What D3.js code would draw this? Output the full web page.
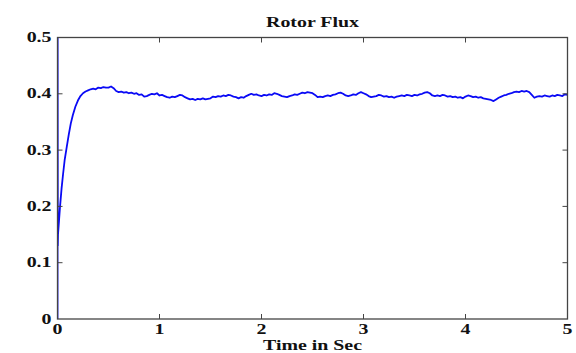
<!DOCTYPE html>
<html>
<head>
<meta charset="utf-8">
<script src="https://d3js.org/d3.v7.min.js"></script>
<style>
  body { margin: 0; background: #fff; }
  text { font-family: "Liberation Serif", "Times New Roman", serif; font-weight: bold; fill: #111; }
</style>
</head>
<body>
<div id="chart"></div>
<script>

// start-up transient
var timeStart = [0, 0.001, 0.003, 0.005, 0.015, 0.025, 0.04, 0.055, 0.07, 0.09, 0.11, 0.13, 0.15,
  0.175, 0.2, 0.225, 0.25, 0.275, 0.3, 0.325, 0.35, 0.375, 0.4, 0.425, 0.45, 0.475];
var fluxStart = [0, 0.52, 0.13, 0.15, 0.175, 0.2, 0.232, 0.258, 0.282, 0.305, 0.327, 0.347, 0.362,
  0.377, 0.388, 0.396, 0.401, 0.404, 0.406, 0.408, 0.409, 0.408, 0.411, 0.41, 0.412, 0.411];

// steady part, one sample every 0.025 s from 0.5 to 5
var fluxSteady = [
  0.411, 0.413, 0.410, 0.405, 0.403, 0.404, 0.402, 0.403, 0.401, 0.402,
  0.400, 0.401, 0.398, 0.399, 0.395, 0.396, 0.398, 0.400, 0.399, 0.401,
  0.397, 0.398, 0.396, 0.394, 0.393, 0.395, 0.394, 0.396, 0.398, 0.397,
  0.394, 0.392, 0.390, 0.391, 0.389, 0.391, 0.390, 0.392, 0.390, 0.391,
  0.392, 0.395, 0.394, 0.396, 0.395, 0.397, 0.396, 0.398, 0.397, 0.395,
  0.394, 0.392, 0.394, 0.393, 0.396, 0.398, 0.400, 0.398, 0.399, 0.397,
  0.396, 0.398, 0.397, 0.399, 0.398, 0.401, 0.400, 0.398, 0.396, 0.395,
  0.394, 0.396, 0.397, 0.399, 0.398, 0.400, 0.402, 0.401, 0.403, 0.402,
  0.401, 0.398, 0.394, 0.395, 0.394, 0.396, 0.397, 0.396, 0.398, 0.399,
  0.401, 0.402, 0.400, 0.397, 0.396, 0.397, 0.399, 0.398, 0.401, 0.403,
  0.401, 0.399, 0.396, 0.394, 0.395, 0.396, 0.398, 0.397, 0.395, 0.396,
  0.394, 0.395, 0.393, 0.395, 0.396, 0.397, 0.396, 0.398, 0.397, 0.396,
  0.398, 0.397, 0.399, 0.400, 0.402, 0.403, 0.401, 0.397, 0.396, 0.397,
  0.396, 0.398, 0.397, 0.395, 0.396, 0.394, 0.395, 0.393, 0.394, 0.392,
  0.395, 0.397, 0.396, 0.394, 0.395, 0.393, 0.394, 0.392, 0.391, 0.390,
  0.389, 0.387, 0.390, 0.393, 0.395, 0.397, 0.398, 0.400, 0.401, 0.403,
  0.404, 0.403, 0.405, 0.404, 0.405, 0.403, 0.398, 0.393, 0.395, 0.396,
  0.395, 0.397, 0.396, 0.395, 0.397, 0.396, 0.398, 0.397, 0.396, 0.399,
  0.398];
var steadyT0 = 0.5, steadyDt = 0.025;

var xTicks = [0, 1, 2, 3, 4, 5];
var yTicks = [0, 0.1, 0.2, 0.3, 0.4, 0.5];

var data = [];
timeStart.forEach(function(t, i) { data.push([t, fluxStart[i]]); });
fluxSteady.forEach(function(v, i) { data.push([steadyT0 + i * steadyDt, v]); });

var W = 576, H = 353;
var margin = {top: 37.5, right: 8.5, bottom: 34, left: 57.5};
var width = W - margin.left - margin.right,
    height = H - margin.top - margin.bottom;
var stretch = 1.42; // the picture's text is wide, stretch it horizontally

var svg = d3.select("#chart").append("svg")
    .attr("width", W).attr("height", H);
var g = svg.append("g")
    .attr("transform", "translate(" + margin.left + "," + margin.top + ")");

var x = d3.scaleLinear().domain([0, 5]).range([0, width]);
var y = d3.scaleLinear().domain([0, 0.5]).range([height, 0]);

g.append("defs").append("clipPath").attr("id", "clip")
  .append("rect").attr("width", width).attr("height", height);

// curve
g.append("path")
  .datum(data)
  .attr("clip-path", "url(#clip)")
  .attr("fill", "none")
  .attr("stroke", "#0a0af5")
  .attr("stroke-width", 1.8)
  .attr("stroke-linejoin", "round")
  .attr("d", d3.line().x(function(d) { return x(d[0]); }).y(function(d) { return y(d[1]); }));

// box
g.append("rect")
  .attr("width", width).attr("height", height)
  .attr("fill", "none").attr("stroke", "#444").attr("stroke-width", 1.3);

// inward ticks on all four sides
var tk = 5;
xTicks.slice(1, -1).forEach(function(t) {
  g.append("line").attr("x1", x(t)).attr("x2", x(t)).attr("y1", height).attr("y2", height - tk)
    .attr("stroke", "#444");
  g.append("line").attr("x1", x(t)).attr("x2", x(t)).attr("y1", 0).attr("y2", tk)
    .attr("stroke", "#444");
});
yTicks.slice(1, -1).forEach(function(t) {
  g.append("line").attr("x1", 0).attr("x2", tk).attr("y1", y(t)).attr("y2", y(t))
    .attr("stroke", "#444");
  g.append("line").attr("x1", width).attr("x2", width - tk).attr("y1", y(t)).attr("y2", y(t))
    .attr("stroke", "#444");
});

function label(px, py, txt, anchor, size) {
  g.append("text")
    .attr("transform", "translate(" + px + "," + py + ") scale(" + stretch + ",1)")
    .attr("text-anchor", anchor)
    .attr("font-size", size)
    .text(txt);
}

xTicks.forEach(function(t) { label(x(t), height + 14.5, d3.format("d")(t), "middle", 14); });
yTicks.forEach(function(t) { label(-6, y(t) + 4.5, t === 0 ? "0" : d3.format(".1f")(t), "end", 14); });

label(width / 2, -11, "Rotor Flux", "middle", 14);
label(width / 2, height + 31, "Time in Sec", "middle", 14);

</script>
</body>
</html>
